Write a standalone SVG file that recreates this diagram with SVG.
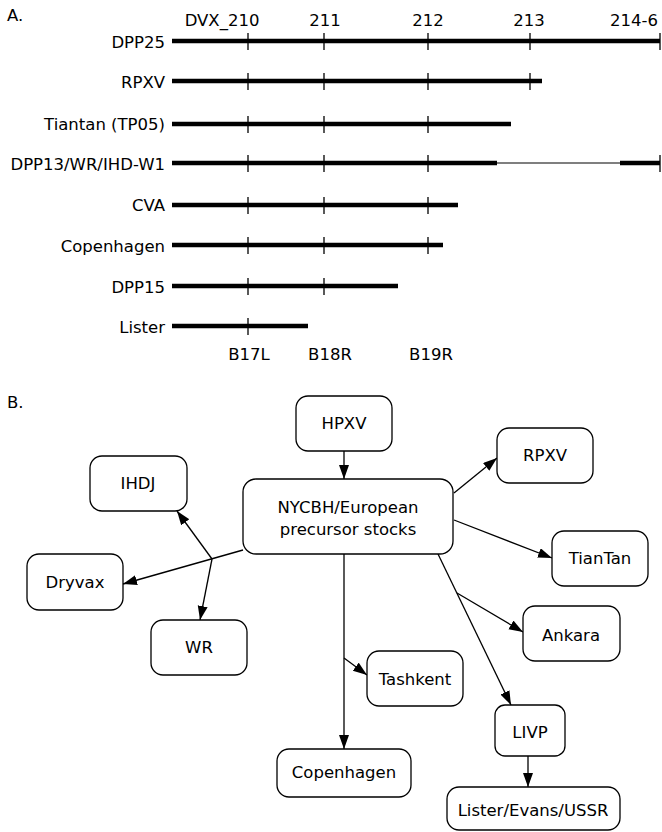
<svg xmlns="http://www.w3.org/2000/svg" width="662" height="832" viewBox="0 0 662 832">
<style>
text{font-family:"DejaVu Sans","Liberation Sans",sans-serif;font-size:16.5px;fill:#000}
.lbl{text-anchor:end}
.hd{text-anchor:middle}
.thick{stroke:#000;stroke-width:4.5;fill:none}
.thin{stroke:#000;stroke-width:1.2;fill:none}
.tick{stroke:#000;stroke-width:1.3}
.box{fill:#fff;stroke:#000;stroke-width:1.3}
.conn{stroke:#000;stroke-width:1.3;fill:none}
.nt{text-anchor:middle}
</style>
<defs>
<marker id="ah" markerUnits="userSpaceOnUse" markerWidth="15" markerHeight="11" refX="14" refY="5" orient="auto">
<path d="M0,0 L14,5 L0,10 z" fill="#000"/>
</marker>
</defs>
<rect width="662" height="832" fill="#fff"/>

<g id="panelA">
<text x="7" y="21">A.</text>
<text class="hd" x="222" y="26">DVX_210</text>
<text class="hd" x="325" y="26">211</text>
<text class="hd" x="428" y="26">212</text>
<text class="hd" x="529" y="26">213</text>
<text class="hd" x="634" y="26">214-6</text>

<g id="row-DPP25">
<text class="lbl" x="165" y="48">DPP25</text>
<line class="thick" x1="172" y1="41" x2="660" y2="41"/>
<path class="tick" d="M248,33V50M324,33V50M428,33V50M530,33V50M660,33V50"/>
</g>
<g id="row-RPXV">
<text class="lbl" x="165" y="88">RPXV</text>
<line class="thick" x1="172" y1="81" x2="542" y2="81"/>
<path class="tick" d="M248,73V90M324,73V90M428,73V90M530,73V90"/>
</g>
<g id="row-Tiantan">
<text class="lbl" x="165" y="130">Tiantan (TP05)</text>
<line class="thick" x1="172" y1="124" x2="511" y2="124"/>
<path class="tick" d="M248,116V133M324,116V133M428,116V133"/>
</g>
<g id="row-DPP13">
<text class="lbl" x="165" y="170">DPP13/WR/IHD-W1</text>
<line class="thick" x1="172" y1="163" x2="497" y2="163"/>
<line class="thin" x1="497" y1="163" x2="620" y2="163"/>
<line class="thick" x1="620" y1="163" x2="660" y2="163"/>
<path class="tick" d="M248,155V172M324,155V172M428,155V172M660,155V172"/>
</g>
<g id="row-CVA">
<text class="lbl" x="165" y="211">CVA</text>
<line class="thick" x1="172" y1="205" x2="458" y2="205"/>
<path class="tick" d="M248,197V214M324,197V214M428,197V214"/>
</g>
<g id="row-Copenhagen">
<text class="lbl" x="165" y="252">Copenhagen</text>
<line class="thick" x1="172" y1="245" x2="443" y2="245"/>
<path class="tick" d="M248,237V254M324,237V254M428,237V254"/>
</g>
<g id="row-DPP15">
<text class="lbl" x="165" y="293">DPP15</text>
<line class="thick" x1="172" y1="286" x2="398" y2="286"/>
<path class="tick" d="M248,278V295M324,278V295"/>
</g>
<g id="row-Lister">
<text class="lbl" x="165" y="333">Lister</text>
<line class="thick" x1="172" y1="326" x2="308" y2="326"/>
<path class="tick" d="M248,318V335"/>
</g>
<text class="hd" x="249" y="360">B17L</text>
<text class="hd" x="330" y="360">B18R</text>
<text class="hd" x="431" y="360">B19R</text>
</g>

<text x="7" y="408">B.</text>

<g id="connectors">
<path class="conn" marker-end="url(#ah)" d="M344,451 L344,479"/>
<path class="conn" marker-end="url(#ah)" d="M454,493 L497,458"/>
<path class="conn" marker-end="url(#ah)" d="M454,520 L552,558"/>
<path class="conn" marker-end="url(#ah)" d="M438,554 L511,705"/>
<path class="conn" marker-end="url(#ah)" d="M457,593 L523,632"/>
<path class="conn" marker-end="url(#ah)" d="M344,554 L344,749"/>
<path class="conn" marker-end="url(#ah)" d="M344,658 L367,675"/>
<path class="conn" marker-end="url(#ah)" d="M528,756 L528,787"/>
<path class="conn" marker-end="url(#ah)" d="M243,550 L123,584"/>
<path class="conn" marker-end="url(#ah)" d="M212,559 L177,511"/>
<path class="conn" marker-end="url(#ah)" d="M212,559 L200,620"/>
</g>

<g id="node-HPXV"><rect class="box" x="296" y="396" width="96" height="55" rx="12"/><text class="nt" x="344" y="429">HPXV</text></g>
<g id="node-NYCBH"><rect class="box" x="243" y="479" width="210" height="75" rx="13"/><text class="nt" x="348" y="513">NYCBH/European</text><text class="nt" x="348" y="535">precursor stocks</text></g>
<g id="node-IHDJ"><rect class="box" x="90" y="456" width="97" height="55" rx="12"/><text class="nt" x="138" y="489">IHDJ</text></g>
<g id="node-Dryvax"><rect class="box" x="27" y="554" width="96" height="56" rx="12"/><text class="nt" x="75" y="588">Dryvax</text></g>
<g id="node-WR"><rect class="box" x="151" y="620" width="96" height="55" rx="12"/><text class="nt" x="199" y="653">WR</text></g>
<g id="node-RPXV"><rect class="box" x="497" y="428" width="96" height="55" rx="12"/><text class="nt" x="545" y="461">RPXV</text></g>
<g id="node-TianTan"><rect class="box" x="552" y="531" width="96" height="55" rx="12"/><text class="nt" x="600" y="564">TianTan</text></g>
<g id="node-Ankara"><rect class="box" x="523" y="606" width="97" height="55" rx="12"/><text class="nt" x="571" y="641">Ankara</text></g>
<g id="node-Tashkent"><rect class="box" x="367" y="651" width="96" height="55" rx="12"/><text class="nt" x="415" y="685">Tashkent</text></g>
<g id="node-LIVP"><rect class="box" x="495" y="705" width="70" height="51" rx="10"/><text class="nt" x="530" y="738">LIVP</text></g>
<g id="node-Copenhagen"><rect class="box" x="277" y="749" width="134" height="48" rx="12"/><text class="nt" x="344" y="778">Copenhagen</text></g>
<g id="node-Lister"><rect class="box" x="447" y="787" width="173" height="43" rx="12"/><text class="nt" x="533" y="816">Lister/Evans/USSR</text></g>
</svg>
